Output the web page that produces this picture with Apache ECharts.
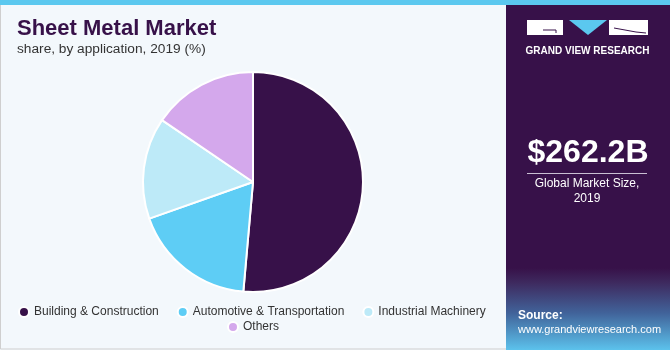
<!DOCTYPE html>
<html>
<head>
<meta charset="utf-8">
<script src="https://cdn.jsdelivr.net/npm/echarts@6/dist/echarts.min.js"></script>
<style>
html,body{margin:0;padding:0;background:#f3f8fc;}
#chart{width:670px;height:350px;}
</style>
</head>
<body>
<div id="chart"></div>
<script>
const categories = ['Building & Construction', 'Automotive & Transportation', 'Industrial Machinery', 'Others'];
const shares = [51.4, 18.2, 14.9, 15.5];
const colors = ['#371149', '#5ecdf5', '#bdeaf8', '#d4a8ec'];
const titleText = 'Sheet Metal Market';
const subtitleText = 'share, by application, 2019 (%)';
const marketSize = '$262.2B';
const marketLabel = 'Global Market Size,\n2019';

const chart = echarts.init(document.getElementById('chart'), null, {renderer: 'canvas'});
const FONT = 'Liberation Sans, Arial, sans-serif';

const option = {
  backgroundColor: '#f3f8fc',
  animation: false,
  title: [{
    text: titleText,
    left: 12, top: 13,
    padding: 5,
    textStyle: {fontFamily: FONT, fontSize: 22, fontWeight: 900, color: '#371149'}
  }, {
    text: subtitleText,
    left: 12, top: 37,
    padding: 5,
    textStyle: {fontFamily: FONT, fontSize: 13.7, fontWeight: 'normal', color: '#333'}
  }],
  legend: [{
    data: categories.slice(0, 3),
    left: 13, top: 301,
    orient: 'horizontal',
    icon: 'circle', itemWidth: 10, itemHeight: 10, itemGap: 18,
    textStyle: {fontFamily: FONT, fontSize: 12, color: '#333'},
    selectedMode: false
  }, {
    data: categories.slice(3),
    left: 222, top: 316,
    icon: 'circle', itemWidth: 10, itemHeight: 10,
    textStyle: {fontFamily: FONT, fontSize: 12, color: '#333'},
    selectedMode: false
  }],
  series: [{
    type: 'pie',
    center: [253, 182],
    radius: [0, 110],
    startAngle: 90,
    clockwise: true,
    label: {show: false},
    labelLine: {show: false},
    itemStyle: {borderColor: '#ffffff', borderWidth: 2},
    emphasis: {disabled: true},
    data: categories.map((c, i) => ({name: c, value: shares[i], itemStyle: {color: colors[i]}}))
  }],
  graphic: [
    {type: 'rect', shape: {x: 0.5, y: 0.5, width: 669, height: 348.5}, style: {fill: 'none', stroke: '#cfcfcf', lineWidth: 1}, z: 1},
    {type: 'rect', shape: {x: 0, y: 0, width: 670, height: 5}, style: {fill: '#5bc8ef'}, z: 5},
    {type: 'rect', shape: {x: 506, y: 5, width: 164, height: 345}, style: {fill: '#371149'}, z: 2},
    {type: 'rect', shape: {x: 506, y: 268, width: 164, height: 82},
      style: {fill: new echarts.graphic.LinearGradient(0, 0, 0, 1, [
        {offset: 0, color: '#371149'},
        {offset: 0.18, color: '#3e2a5f'},
        {offset: 0.55, color: '#41639a'},
        {offset: 1, color: '#5cc2ec'}
      ])}, z: 3},
    // logo
    {type: 'rect', shape: {x: 527, y: 20, width: 36, height: 15}, style: {fill: '#ffffff'}, z: 6},
    {type: 'polyline', shape: {points: [[543, 30], [556, 30], [556, 33]]}, style: {stroke: '#371149', lineWidth: 1, fill: 'none'}, z: 7},
    {type: 'polygon', shape: {points: [[569, 20], [607, 20], [588, 35]]}, style: {fill: '#5bc8ef'}, z: 6},
    {type: 'rect', shape: {x: 609, y: 20, width: 39, height: 15}, style: {fill: '#ffffff'}, z: 6},
    {type: 'polyline', shape: {points: [[614, 28], [636, 32], [646, 33]]}, style: {stroke: '#371149', lineWidth: 1, fill: 'none'}, z: 7},
    {type: 'text', x: 587.5, y: 51, style: {text: 'GRAND VIEW RESEARCH', fill: '#ffffff', font: 'bold 10px ' + FONT, align: 'center', verticalAlign: 'middle'}, z: 6},
    // market size
    {type: 'text', x: 588, y: 153, style: {text: marketSize, fill: '#ffffff', font: '900 32px ' + FONT, align: 'center', verticalAlign: 'middle'}, z: 6},
    {type: 'line', shape: {x1: 527, y1: 173.5, x2: 647, y2: 173.5}, style: {stroke: '#c9bfd3', lineWidth: 1}, z: 6},
    {type: 'text', x: 587, y: 191, style: {text: marketLabel, fill: '#ffffff', font: '12px ' + FONT, align: 'center', verticalAlign: 'middle', lineHeight: 15}, z: 6},
    // source
    {type: 'text', x: 518, y: 316, style: {text: 'Source:', fill: '#ffffff', font: 'bold 12px ' + FONT, verticalAlign: 'middle'}, z: 6},
    {type: 'text', x: 518, y: 330, style: {text: 'www.grandviewresearch.com', fill: '#ffffff', font: '11px ' + FONT, verticalAlign: 'middle'}, z: 6}
  ]
};
chart.setOption(option);
</script>
</body>
</html>
